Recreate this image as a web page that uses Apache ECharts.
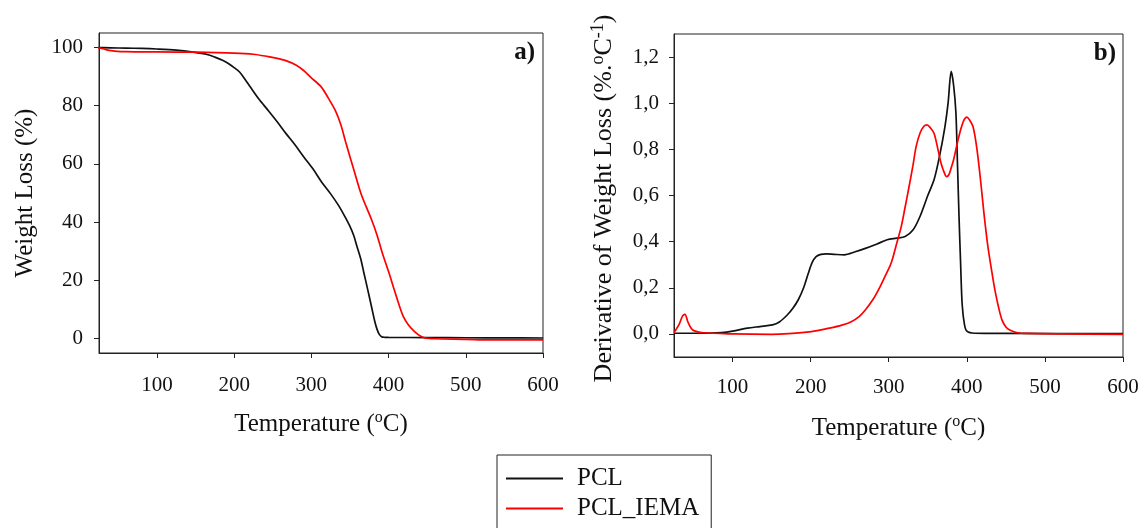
<!DOCTYPE html>
<html>
<head>
<meta charset="utf-8">
<script src="https://cdn.jsdelivr.net/npm/echarts@6/dist/echarts.min.js"></script>
<style>
  html, body { margin: 0; padding: 0; background: #ffffff; }
  #chart { width: 1142px; height: 528px; }
</style>
</head>
<body>
<div id="chart"></div>
<script>
// ---- Data ----
const seriesNames = ['PCL', 'PCL_IEMA'];
const xTicks = [100, 200, 300, 400, 500, 600];
const tgaTicks = [0, 20, 40, 60, 80, 100];
const dtgTicks = [0, 0.2, 0.4, 0.6, 0.8, 1.0, 1.2];

// a) TGA, PCL
const tgaPclT = [19, 40, 60, 80, 100, 125, 147, 165, 175, 185, 193, 200, 207, 214, 221, 232, 244, 256, 267, 279, 290, 302, 313, 325, 336, 344, 350, 355, 359, 364, 368, 373, 378, 382, 385, 388, 391, 395, 400, 450, 500, 550, 600];
const tgaPclW = [100, 99.9, 99.8, 99.7, 99.5, 99.1, 98.4, 97.6, 96.7, 95.6, 94.4, 93.1, 91.6, 89.1, 86.4, 82.3, 78.4, 74.4, 70.5, 66.5, 62.5, 58.3, 53.9, 49.7, 45.4, 41.6, 38.5, 35.3, 31.7, 27.3, 22.6, 16.8, 10.8, 6.0, 3.2, 1.4, 0.6, 0.4, 0.35, 0.3, 0.25, 0.2, 0.15];

// a) TGA, PCL_IEMA
const tgaIemaT = [19, 30, 38, 45, 60, 100, 150, 200, 225, 244, 256, 267, 280, 290, 300, 313, 322, 331, 338, 345, 355, 364, 371, 378, 385, 392, 400, 406, 413, 419, 426, 433, 440, 447, 460, 500, 530, 600];
const tgaIemaW = [100, 99.6, 99.0, 98.8, 98.6, 98.5, 98.4, 98.1, 97.7, 96.9, 96.3, 95.5, 94.0, 92.1, 89.6, 86.4, 82.6, 78.4, 73.6, 67.0, 58.0, 50.0, 45.3, 40.8, 35.6, 29.3, 23.0, 17.9, 12.0, 7.6, 4.5, 2.5, 1.0, 0.2, -0.1, -0.3, -0.5, -0.5];

// b) DTG, PCL
const dtgPclT = [25, 60, 86, 100, 119, 135, 151, 160, 170, 177, 184, 191, 197, 202, 207, 213, 220, 230, 243, 257, 271, 285, 298, 310, 321, 331, 340, 350, 358, 365, 372, 376, 380, 383, 386, 388, 390, 392, 394, 397, 400, 410, 450, 600];
const dtgPclV = [0.003, 0.003, 0.006, 0.012, 0.025, 0.032, 0.039, 0.052, 0.082, 0.11, 0.147, 0.2, 0.263, 0.31, 0.335, 0.345, 0.347, 0.345, 0.343, 0.356, 0.372, 0.39, 0.408, 0.415, 0.422, 0.45, 0.509, 0.6, 0.668, 0.77, 0.899, 1.0, 1.138, 1.08, 0.96, 0.74, 0.509, 0.31, 0.13, 0.04, 0.012, 0.003, 0.002, 0.001];

// b) DTG, PCL_IEMA
const dtgIemaT = [25, 32, 36, 39, 43, 49, 63, 100, 150, 201, 224, 240, 252, 262, 270, 280, 289, 296, 303, 310, 316, 321, 326, 331, 335, 340, 345, 349, 353, 358, 363, 367, 371, 374, 377, 380, 383, 388, 392, 396, 400, 403, 408, 413, 418, 422, 427, 432, 436, 441, 445, 450, 455, 465, 478, 520, 600];
const dtgIemaV = [0.005, 0.045, 0.078, 0.085, 0.05, 0.017, 0.005, 0.0, -0.002, 0.01, 0.025, 0.038, 0.053, 0.075, 0.104, 0.15, 0.205, 0.255, 0.306, 0.39, 0.465, 0.55, 0.638, 0.73, 0.811, 0.87, 0.9, 0.906, 0.895, 0.87, 0.8, 0.74, 0.7, 0.682, 0.69, 0.72, 0.754, 0.83, 0.884, 0.925, 0.94, 0.93, 0.898, 0.8, 0.653, 0.52, 0.378, 0.27, 0.19, 0.11, 0.061, 0.03, 0.017, 0.005, 0.002, 0.0, -0.002];

// ---- Chart ----
const zip = (xs, ys) => xs.map((x, i) => [x, ys[i]]);
const FONT = '"Liberation Serif", "Times New Roman", serif';
const AXC = '#222';
const colors = ['#111111', '#ff0000'];

const rich = {
  n: { fontFamily: FONT, fontSize: 25, color: '#111' },
  s: { fontFamily: FONT, fontSize: 16, color: '#111', padding: [0, 0, 12, 0] }
};
const richY = {
  n: { fontFamily: FONT, fontSize: 26, color: '#111' },
  s: { fontFamily: FONT, fontSize: 18, color: '#111', padding: [0, 0, 12, 0] }
};

function xAxisCfg(gridIndex, labelMargin) {
  return {
    type: 'value', gridIndex, min: 25, max: 600,
    name: '{n|Temperature (}{s|o}{n|C)}',
    nameLocation: 'middle', nameGap: 57,
    nameTextStyle: { rich },
    axisLine: { show: true, onZero: false, lineStyle: { color: AXC, width: 1 } },
    axisTick: { show: true, inside: false, length: 5, lineStyle: { color: AXC }, customValues: xTicks },
    axisLabel: { customValues: xTicks, fontFamily: FONT, fontSize: 21, color: '#111', margin: labelMargin },
    splitLine: { show: false }
  };
}

const option = {
  animation: false,
  backgroundColor: '#ffffff',
  color: colors,
  grid: [
    { left: 99, top: 33, width: 444, height: 320, show: true, borderColor: AXC, borderWidth: 1, backgroundColor: 'transparent' },
    { left: 674, top: 34, width: 449, height: 323, show: true, borderColor: AXC, borderWidth: 1, backgroundColor: 'transparent' }
  ],
  xAxis: [xAxisCfg(0, 22), xAxisCfg(1, 20)],
  yAxis: [
    {
      type: 'value', gridIndex: 0, min: -5, max: 105,
      name: 'Weight Loss (%)', nameLocation: 'middle', nameGap: 61, nameRotate: 90,
      nameTextStyle: { fontFamily: FONT, fontSize: 25, color: '#111' },
      axisLine: { show: true, onZero: false, lineStyle: { color: AXC, width: 1 } },
      axisTick: { show: true, inside: false, length: 5, lineStyle: { color: AXC }, customValues: tgaTicks },
      axisLabel: { customValues: tgaTicks, fontFamily: FONT, fontSize: 21, color: '#111', margin: 16 },
      splitLine: { show: false }
    },
    {
      type: 'value', gridIndex: 1, min: -0.1, max: 1.3,
      name: '{n|Derivative of Weight Loss (%.}{s|o}{n|C}{s|-1}{n|)}',
      nameLocation: 'middle', nameGap: 55, nameRotate: 90,
      nameTextStyle: { rich: richY, padding: [0, 6, 0, 0] },
      axisLine: { show: true, onZero: false, lineStyle: { color: AXC, width: 1 } },
      axisTick: { show: true, inside: false, length: 5, lineStyle: { color: AXC }, customValues: dtgTicks },
      axisLabel: {
        customValues: dtgTicks, fontFamily: FONT, fontSize: 21, color: '#111', margin: 15,
        formatter: v => v.toFixed(1).replace('.', ',')
      },
      splitLine: { show: false }
    }
  ],
  legend: {
    data: seriesNames,
    orient: 'vertical',
    left: 497, top: 455, height: 140,
    padding: [11, 12, 40, 9],
    icon: 'rect',
    itemWidth: 57, itemHeight: 2, itemGap: 5,
    borderColor: '#222', borderWidth: 1,
    textStyle: { fontFamily: FONT, fontSize: 25, color: '#111', lineHeight: 25, padding: [0, 0, 0, 9] }
  },
  graphic: [
    { type: 'text', style: { text: 'a)', x: 535, y: 53, align: 'right', verticalAlign: 'middle', font: 'bold 25px ' + FONT, fill: '#111' } },
    { type: 'text', style: { text: 'b)', x: 1116, y: 54, align: 'right', verticalAlign: 'middle', font: 'bold 25px ' + FONT, fill: '#111' } }
  ],
  series: [
    { name: 'PCL', type: 'line', xAxisIndex: 0, yAxisIndex: 0, data: zip(tgaPclT, tgaPclW), symbol: 'none', smooth: 0.3, clip: false, lineStyle: { width: 1.7, color: colors[0] } },
    { name: 'PCL_IEMA', type: 'line', xAxisIndex: 0, yAxisIndex: 0, data: zip(tgaIemaT, tgaIemaW), symbol: 'none', smooth: 0.3, clip: false, lineStyle: { width: 1.7, color: colors[1] } },
    { name: 'PCL', type: 'line', xAxisIndex: 1, yAxisIndex: 1, data: zip(dtgPclT, dtgPclV), symbol: 'none', smooth: 0.3, lineStyle: { width: 1.7, color: colors[0] } },
    { name: 'PCL_IEMA', type: 'line', xAxisIndex: 1, yAxisIndex: 1, data: zip(dtgIemaT, dtgIemaV), symbol: 'none', smooth: 0.3, lineStyle: { width: 1.7, color: colors[1] } }
  ]
};

const chart = echarts.init(document.getElementById('chart'), null, { renderer: 'canvas' });
chart.setOption(option);
</script>
</body>
</html>
